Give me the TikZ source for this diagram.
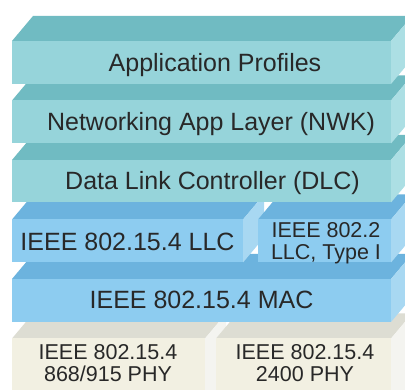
\documentclass[tikz,border=0pt]{standalone}
\usepackage{fontspec}
\setmainfont{Liberation Sans}
\definecolor{tealF}{RGB}{150,212,218}
\definecolor{tealT}{RGB}{112,187,194}
\definecolor{tealS}{RGB}{172,223,228}
\definecolor{blueF}{RGB}{141,204,240}
\definecolor{blueT}{RGB}{108,179,222}
\definecolor{blueS}{RGB}{168,216,242}
\definecolor{creamF}{RGB}{242,240,226}
\definecolor{creamT}{RGB}{221,221,211}
\definecolor{creamS}{RGB}{244,244,240}
\definecolor{txt}{RGB}{40,40,40}
% x1, x2, ytop, ybot, front, top, side
\newcommand{\slabbox}[7]{%
  \fill[#6] (#1,#3) -- (#1+21,#3-25) -- (#2+21,#3-25) -- (#2,#3) -- cycle;
  \fill[#7] (#2,#3) -- (#2+21,#3-25) -- (#2+21,#4-25) -- (#2,#4) -- cycle;
  \fill[#5] (#1,#3) rectangle (#2,#4);
}
\tikzset{
  big/.style={text=txt, font=\fontsize{25}{28}\selectfont, inner sep=0pt, anchor=base},
  small/.style={text=txt, font=\fontsize{21.5}{22.5}\selectfont, inner sep=0pt, align=center, anchor=center},
}
\begin{document}
\begin{tikzpicture}[x=1pt,y=-1pt]
\useasboundingbox (0,0) rectangle (405,390);
\fill[white] (0,0) rectangle (405,390);
\clip (0,0) rectangle (405,390);
% PHY layer
\slabbox{12}{205}{338.5}{420}{creamF}{creamT}{creamS}
\slabbox{216}{391}{338.5}{420}{creamF}{creamT}{creamS}
% MAC
\slabbox{12}{391}{279}{322}{blueF}{blueT}{blueS}
% LLC
\slabbox{12}{243}{219.5}{262.5}{blueF}{blueT}{blueS}
\slabbox{258}{391}{219.5}{262.5}{blueF}{blueT}{blueS}
% DLC
\slabbox{12}{391}{160}{202.5}{tealF}{tealT}{tealS}
% NWK
\slabbox{12}{391}{100.5}{143.5}{tealF}{tealT}{tealS}
% APP
\slabbox{12}{391}{41}{84}{tealF}{tealT}{tealS}
% labels
\node[big] (app) at (215,72) {Application Profiles};
\node[big] (nwk) at (211,131) {Networking App Layer (NWK)};
\node[big] (dlc) at (212.5,190) {Data Link Controller (DLC)};
\node[big] (llc) at (127.5,251) {IEEE 802.15.4 LLC};
\node[small] (llc2) at (326,243) {IEEE 802.2\\LLC, Type I};
\node[big] (mac) at (201.5,309) {IEEE 802.15.4 MAC};
\node[small] (phy1) at (108,363) {IEEE 802.15.4\\868/915 PHY};
\node[small] (phy2) at (305,363) {IEEE 802.15.4\\2400 PHY};
\end{tikzpicture}
\end{document}
